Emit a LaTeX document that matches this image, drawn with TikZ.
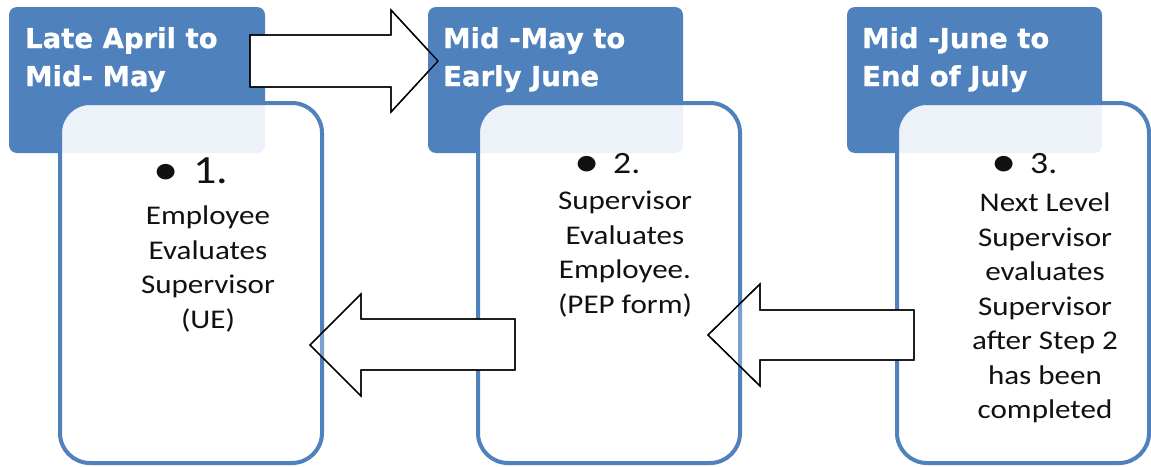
\documentclass[tikz,border=0pt]{standalone}
\usepackage{fontspec}
\newfontfamily\hdfont{DejaVu Sans}[BoldFeatures={FakeBold=0.8}]
\newfontfamily\bdfont{Carlito}[FakeStretch=1.15]
\definecolor{hblue}{HTML}{4F81BD}
\definecolor{ink}{HTML}{111111}
\tikzset{
  header/.style={fill=hblue, rounded corners=8pt},
  card/.style={draw=hblue, line width=4pt, fill=white, fill opacity=0.9, rounded corners=30pt},
  cardline/.style={draw=hblue, line width=4pt, rounded corners=30pt},
  blockarrow/.style={draw=black, line width=1.3pt, fill=white, line join=miter},
  arrowline/.style={draw=black, line width=1.3pt, line join=miter},
  htext/.style={font=\hdfont\bfseries\fontsize{27.5}{38}\selectfont, text=white, align=left, inner sep=0pt, anchor=north west},
  btext/.style={font=\bdfont\fontsize{27}{34.5}\selectfont, text=ink, align=center, inner sep=0pt},
  bignum/.style={font=\bdfont\fontsize{40}{40}\selectfont, text=ink, inner sep=0pt, anchor=base west},
  smallnum/.style={font=\bdfont\fontsize{31}{31}\selectfont, text=ink, inner sep=0pt, anchor=base west},
  bul/.style={font=\bdfont\fontsize{44}{44}\selectfont, text=ink, inner sep=0pt}
}
\begin{document}
\begin{tikzpicture}[x=1pt,y=-1pt]
\useasboundingbox (0,0) rectangle (1151,466);
\fill[white] (0,0) rectangle (1151,466);
% stage 1
\path[header] (9,7) rectangle (265,153);
\path[card] (60,103) rectangle (322,463);
% top arrow (stage 1 -> stage 2)
\path[blockarrow] (250,35) -- (391,35) -- (391,10) -- (438,61) -- (391,112) -- (391,87) -- (250,87) -- cycle;
% stage 2
\path[header] (428,7) rectangle (683,153);
\path[card] (478,103) rectangle (740,463);
% stage 3
\path[header] (847,7) rectangle (1102,153);
\path[card] (897,103) rectangle (1149,463);
% outline of top arrow on top
\path[arrowline] (250,35) -- (391,35) -- (391,10) -- (438,61) -- (391,112) -- (391,87) -- (250,87) -- cycle;
% bottom arrows
\path[blockarrow] (515,319) -- (361,319) -- (361,294) -- (310,345) -- (361,396) -- (361,370) -- (515,370) -- cycle;
\path[blockarrow] (914,310) -- (760,310) -- (760,284) -- (708,335) -- (760,386) -- (760,360) -- (914,360) -- cycle;
\begin{scope}
  \clip (515,319) -- (361,319) -- (361,294) -- (310,345) -- (361,396) -- (361,370) -- (515,370) -- cycle;
  \path[cardline, draw opacity=0.75] (60,103) rectangle (322,463);
\end{scope}
\begin{scope}
  \clip (914,310) -- (760,310) -- (760,284) -- (708,335) -- (760,386) -- (760,360) -- (914,360) -- cycle;
  \path[cardline, draw opacity=0.75] (478,103) rectangle (740,463);
\end{scope}
\path[arrowline] (515,319) -- (361,319) -- (361,294) -- (310,345) -- (361,396) -- (361,370) -- (515,370) -- cycle;
\path[arrowline] (914,310) -- (760,310) -- (760,284) -- (708,335) -- (760,386) -- (760,360) -- (914,360) -- cycle;
% header texts
\node[htext] (h1) at (25,27) {Late April to\\Mid- May};
\node[htext] (h2) at (443,27) {Mid -May to\\Early June};
\node[htext] (h3) at (862,27) {Mid -June to\\End of July};
% bullets and numbers
\node[bul] (b1) at (166,174) {•};
\node[bignum] (n1) at (193,183) {1.};
\node[bul] (b2) at (587,166) {•};
\node[smallnum] (n2) at (613,173) {2.};
\node[bul] (b3) at (1004,166) {•};
\node[smallnum] (n3) at (1030,173) {3.};
% body texts
\node[btext] (d1) at (208,269) {Employee\\Evaluates\\Supervisor\\(UE)};
\node[btext] (d2) at (625,254) {Supervisor\\Evaluates\\Employee.\\(PEP form)};
\node[btext] (d3) at (1045,308) {Next Level\\Supervisor\\evaluates\\Supervisor\\after Step 2\\has been\\completed};
\end{tikzpicture}
\end{document}
